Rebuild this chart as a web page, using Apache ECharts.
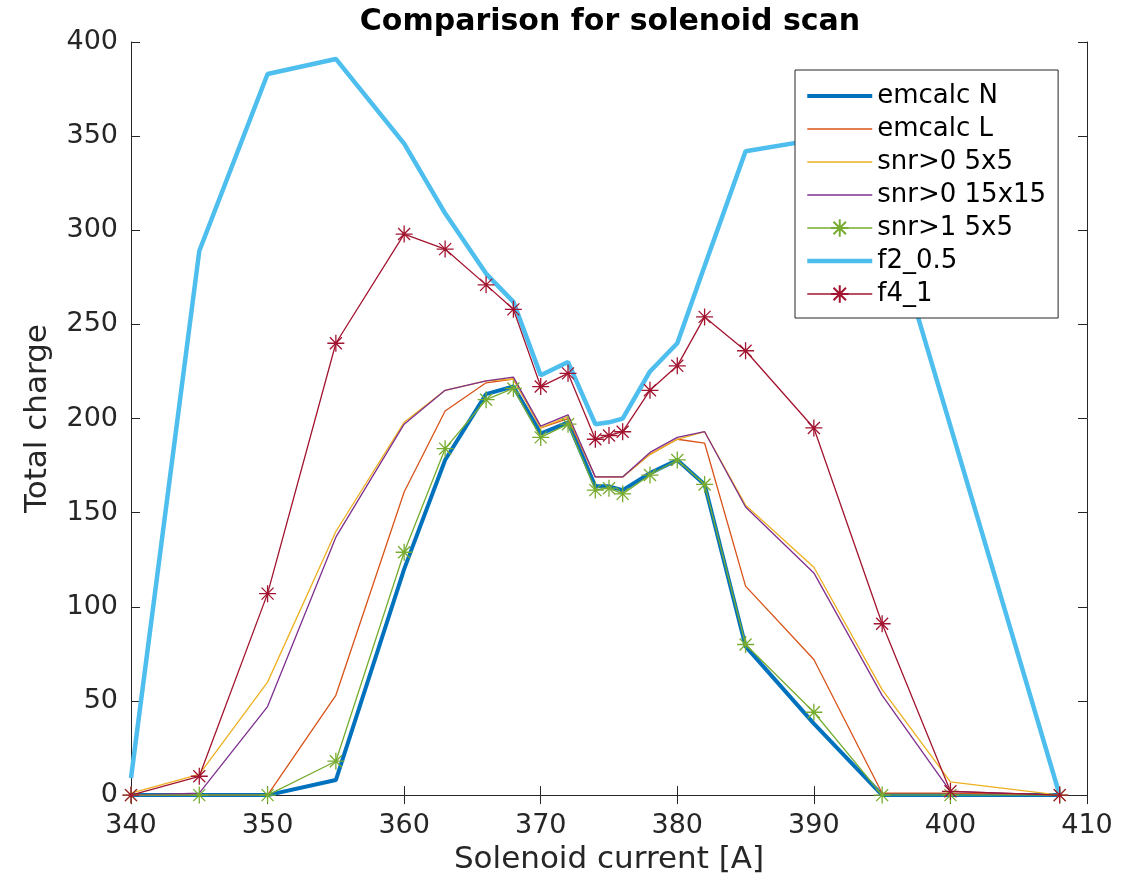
<!DOCTYPE html>
<html><head><meta charset="utf-8">
<script src="https://cdn.jsdelivr.net/npm/echarts@6/dist/echarts.min.js"></script>
<style>html,body{margin:0;padding:0;background:#fff}#c{width:1143px;height:880px}</style>
</head><body><div id="c"></div>
<script>
const current     = [340,345,350,355,360,363,366,368,370,372,374,375,376,378,380,382,385,390,395,400,408];
const emcalcN     = [0,0,0,8,120,178,213,217,192,198,164,164,162,171,178,165,79,38,0,0,0];
const emcalcL     = [0,0,0,53,161,204,219,221,195,200,169,169,169,181,189,187,111,72,1,1,0];
const snr0_5x5    = [1,11,60,140,198,215,220,221,195,201,169,169,169,181,189,193,154,121,56,7,0];
const snr0_15x15  = [0,1,47,137,197,215,220,222,196,202,169,169,169,182,190,193,153,118,53,2,0];
const snr1_5x5    = [0,0,0,18,129,184,210,216,190,197,162,163,160,170,178,165,80,44,0,0,0];
const f2_05       = [9,289,383,391,346,309,277,262,223,230,197,198,200,225,240,281,342,348,318,196,0];
const f4_1        = [0,10,107,240,298,290,271,258,217,224,189,191,193,215,228,254,236,195,91,2,0];
const seriesNames = ['emcalc N','emcalc L','snr>0 5x5','snr>0 15x15','snr>1 5x5','f2_0.5','f4_1'];
const xTicks = [340,350,360,370,380,390,400,410];
const yTicks = [0,50,100,150,200,250,300,350,400];

const FONT = 'DejaVu Sans';
const TXT = '#262626';
const star = 'path://M0,-10L0,10M-10,0L10,0M-7.07,-7.07L7.07,7.07M-7.07,7.07L7.07,-7.07';
const pairs = v => current.map((x,i)=>[x,v[i]]);

function mk(name, data, color, width, marker){
  const s = {
    name, type:'line', data: pairs(data), animation:false,
    lineStyle:{color, width},
    emphasis:{disabled:true},
    silent:true
  };
  if (marker){
    s.symbol = star; s.symbolSize = 17; s.showSymbol = true;
    s.itemStyle = {color:'rgba(0,0,0,0)', borderColor: color, borderWidth: 1.3};
  } else {
    s.symbol = 'circle'; s.symbolSize = 1; s.showSymbol = false;
    s.itemStyle = {color:'rgba(0,0,0,0)', borderColor:'rgba(0,0,0,0)', borderWidth:0};
  }
  return s;
}

const chart = echarts.init(document.getElementById('c'), null, {renderer:'canvas'});
const axisCommon = {
  type:'value', splitLine:{show:false},
  axisLine:{show:true, lineStyle:{color:TXT, width:1}},
  axisTick:{show:true, inside:true, length:9, lineStyle:{color:TXT}},
};
const colors = ['#0072BD','#D95319','#EDB120','#7E2F8E','#77AC30','#4DBEEE','#A2142F'];
const widths = [4,1.3,1.3,1.3,1.3,4.5,1.3];
chart.setOption({
  backgroundColor:'#fff',
  title:{text:'Comparison for solenoid scan', left:605, textAlign:'center', top:2,
    textStyle:{fontFamily:FONT, fontWeight:'bold', fontSize:30, color:'#000'}},
  grid:{left:131, right:56, top:42, bottom:84},
  legend:{
    orient:'vertical', left:795, top:70,
    data: seriesNames.map((n,i)=>({name:n, lineStyle:{color:colors[i], width:widths[i]}})),
    backgroundColor:'#fff', borderColor:'#262626', borderWidth:1, borderRadius:0,
    padding:[13,12,11,10], itemWidth:65, itemHeight:22, itemGap:7,
    textStyle:{fontFamily:FONT, fontSize:26, color:'#000'},
    selectedMode:false
  },
  xAxis:[
    Object.assign({}, axisCommon, {min:340, max:410, interval:10, position:'bottom',
      name:'Solenoid current [A]', nameLocation:'middle', nameGap:47,
      nameTextStyle:{fontFamily:FONT, fontSize:31, color:TXT},
      axisLabel:{fontFamily:FONT, fontSize:27, color:TXT, margin:17,
        formatter: v => xTicks.includes(v) ? String(v) : ''}}),
    Object.assign({}, axisCommon, {min:340, max:410, interval:10, position:'top', axisLabel:{show:false}})
  ],
  yAxis:[
    Object.assign({}, axisCommon, {min:0, max:400, interval:50, position:'left',
      name:'Total charge', nameLocation:'middle', nameGap:78,
      nameTextStyle:{fontFamily:FONT, fontSize:31, color:TXT},
      axisLabel:{fontFamily:FONT, fontSize:27, color:TXT, margin:13,
        formatter: v => yTicks.includes(v) ? String(v) : ''}}),
    Object.assign({}, axisCommon, {min:0, max:400, interval:50, position:'right', axisLabel:{show:false}})
  ],
  series: [emcalcN, emcalcL, snr0_5x5, snr0_15x15, snr1_5x5, f2_05, f4_1]
    .map((d,i)=>mk(seriesNames[i], d, colors[i], widths[i], i===4 || i===6))
});
</script></body></html>
